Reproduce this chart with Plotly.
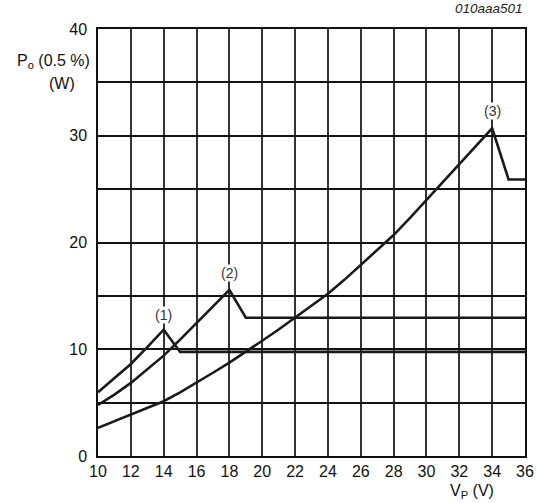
import plotly.graph_objects as go

# Curve (1)
vp1 = [10, 11, 12, 13, 14, 15, 36]
po1 = [5.97, 7.25, 8.62, 10.2, 11.83, 9.75, 9.75]
# Curve (2)
vp2 = [10, 11, 12, 13, 14, 15, 16, 17, 18, 19, 36]
po2 = [4.78, 5.75, 6.85, 8.1, 9.4, 10.9, 12.46, 14.0, 15.57, 12.95, 12.95]
# Curve (3)
vp3 = [10, 11, 12, 13, 14, 15, 16, 17, 18, 19, 20, 21, 22, 23, 24, 25, 26, 27,
       28, 29, 30, 31, 32, 33, 34, 35, 36]
po3 = [2.63, 3.25, 3.88, 4.5, 5.13, 5.95, 6.85, 7.8, 8.75, 9.75, 10.8, 11.85,
       12.95, 14.05, 15.2, 16.5, 17.9, 19.3, 20.7, 22.3, 24.0, 25.7, 27.4, 29.0,
       30.7, 25.9, 25.9]

labels = ["(1)", "(2)", "(3)"]
label_x = [14, 18, 34]
label_y = [13.2, 17.1, 32.35]

x_ticks = list(range(10, 37, 2))
y_grid = list(range(0, 41, 5))
y_text = [str(v) if v % 10 == 0 else "" for v in y_grid]

FONT = "Liberation Sans, Arial, sans-serif"

fig = go.Figure()
for xs, ys in [(vp1, po1), (vp2, po2), (vp3, po3)]:
    fig.add_trace(go.Scatter(x=xs, y=ys, mode="lines",
                             line=dict(color="#1a1a1a", width=2.6),
                             showlegend=False, hoverinfo="skip"))

for t, x, y in zip(labels, label_x, label_y):
    fig.add_annotation(x=x, y=y, text=t, showarrow=False, bgcolor="white",
                       borderpad=0,
                       font=dict(family=FONT, size=14, color="#333333"))

fig.add_annotation(xref="paper", yref="paper", x=1.0, y=1.0, yshift=21,
                   xanchor="right", yanchor="middle", text="<i>010aaa501</i>",
                   showarrow=False, font=dict(family=FONT, size=13.5, color="#222"))
fig.add_annotation(xref="paper", yref="paper", x=-0.013, y=1.0, yshift=-32,
                   xanchor="right", yanchor="middle",
                   text="P<sub>o</sub> (0.5 %)", showarrow=False,
                   font=dict(family=FONT, size=16, color="#111"))
fig.add_annotation(xref="paper", yref="paper", x=-0.084, y=1.0, yshift=-54,
                   xanchor="center", yanchor="middle",
                   text="(W)", showarrow=False,
                   font=dict(family=FONT, size=16, color="#111"))
fig.add_annotation(xref="paper", yref="paper", x=0.877, y=0.0, yshift=-35,
                   xanchor="center", yanchor="middle",
                   text="V<sub>P</sub> (V)", showarrow=False,
                   font=dict(family=FONT, size=16, color="#111"))

fig.update_layout(
    template="none",
    width=537, height=503,
    margin=dict(l=98, r=11.5, t=29, b=46.5, autoexpand=False),
    paper_bgcolor="white", plot_bgcolor="white",
    font=dict(family=FONT, size=16, color="#111"),
)
fig.update_xaxes(range=[10, 36], tickmode="array", tickvals=x_ticks,
                 ticktext=[str(v) for v in x_ticks],
                 showgrid=True, gridcolor="#333333", gridwidth=1.5,
                 showline=True, linecolor="#111111", linewidth=1.5, mirror=True,
                 ticks="", zeroline=False, automargin=False)
fig.update_yaxes(range=[0, 40], tickmode="array", tickvals=y_grid, ticktext=y_text,
                 showgrid=True, gridcolor="#111111", gridwidth=1.5,
                 showline=True, linecolor="#111111", linewidth=1.5, mirror=True,
                 ticks="", ticklabelstandoff=6, zeroline=False, automargin=False)

fig.write_html("out.html")
